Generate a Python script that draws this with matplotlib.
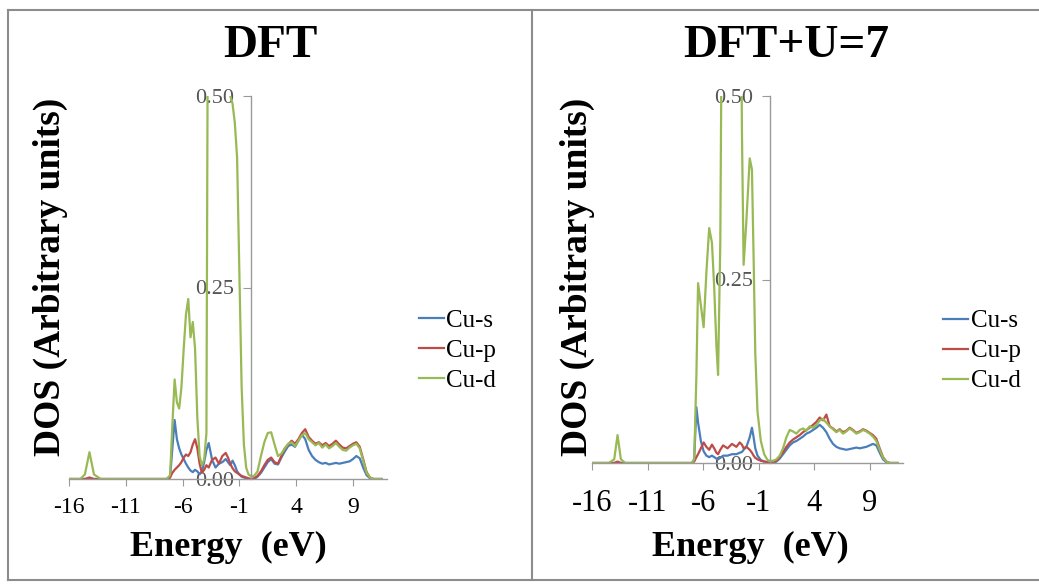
"""
Cu partial DOS, DFT vs DFT+U=7
"""
import numpy as np
import matplotlib.pyplot as plt
from matplotlib.lines import Line2D


W, H = 1039, 584
SERIF = 'Liberation Serif'
COLORS = {'Cu-s': '#4a7ebb', 'Cu-p': '#be4b48', 'Cu-d': '#98b954'}

TITLES = ['DFT', 'DFT+U=7']
SERIES = ['Cu-s', 'Cu-p', 'Cu-d']
X_TICKS = [-16, -11, -6, -1, 4, 9]
Y_TICKS = [0.0, 0.25, 0.5]
Y_TICK_LABELS = ['0.00', '0.25', '0.50']

# left panel (DFT)
energy_dft = [-16.0, -15.0, -14.6, -14.2, -13.8, -13.2, -7.4, -7.1, -6.9, -6.7,
              -6.5, -6.3, -6.1, -5.9, -5.7, -5.5, -5.3, -5.1, -4.9, -4.7,
              -4.5, -4.3, -4.1, -3.9, -3.7, -3.4, -3.1, -2.8, -2.5, -2.2,
              -2.0, -1.8, -1.6, -1.4, -1.2, -1.0, -0.8, -0.6, -0.4, -0.2,
              0.0, 0.3, 0.6, 0.9, 1.2, 1.5, 1.8, 2.1, 2.4, 2.7,
              3.0, 3.3, 3.6, 3.9, 4.2, 4.5, 4.8, 5.1, 5.4, 5.7,
              6.0, 6.3, 6.6, 6.9, 7.2, 7.5, 7.8, 8.1, 8.4, 8.7,
              9.0, 9.3, 9.6, 9.9, 10.2, 10.5, 10.8, 11.5]
cu_s_dft = [0, 0, 0, 0, 0, 0, 0, 0.002, 0.04, 0.077,
            0.052, 0.04, 0.032, 0.026, 0.02, 0.015, 0.011, 0.009, 0.012, 0.01,
            0.006, 0.01, 0.022, 0.038, 0.047, 0.025, 0.015, 0.02, 0.022, 0.026,
            0.022, 0.018, 0.024, 0.018, 0.01, 0.006, 0.003, 0.002, 0.001, 0.0,
            0.0, 0.0, 0.003, 0.008, 0.015, 0.022, 0.026, 0.02, 0.019, 0.028,
            0.036, 0.043, 0.045, 0.042, 0.05, 0.058, 0.052, 0.038, 0.03, 0.025,
            0.022, 0.02, 0.021, 0.019, 0.02, 0.021, 0.02, 0.021, 0.022, 0.023,
            0.026, 0.03, 0.027, 0.015, 0.005, 0.001, 0, 0]
cu_p_dft = [0, 0, 0, 0.002, 0, 0, 0, 0.002, 0.008, 0.012,
            0.015, 0.018, 0.022, 0.028, 0.032, 0.03, 0.035, 0.045, 0.052, 0.04,
            0.02, 0.008, 0.012, 0.018, 0.015, 0.025, 0.028, 0.02, 0.03, 0.034,
            0.028, 0.02, 0.014, 0.01, 0.008, 0.006, 0.004, 0.003, 0.002, 0.001,
            0.0, 0.001, 0.004, 0.01, 0.018, 0.025, 0.028, 0.022, 0.02, 0.03,
            0.04, 0.045, 0.05, 0.046, 0.052, 0.06, 0.065, 0.055, 0.05, 0.046,
            0.048, 0.044, 0.047, 0.043, 0.046, 0.05, 0.045, 0.041, 0.04, 0.043,
            0.046, 0.048, 0.042, 0.026, 0.009, 0.002, 0, 0]
cu_d_dft = [0, 0, 0.006, 0.035, 0.006, 0, 0, 0.005, 0.07, 0.13,
            0.10, 0.092, 0.12, 0.17, 0.215, 0.235, 0.185, 0.205, 0.17, 0.08,
            0.03, 0.018, 0.025, 0.06, 0.95, 1.2, 1.2, 1.1, 1.0, 0.8,
            0.6, 0.50, 0.49, 0.465, 0.42, 0.27, 0.12, 0.045, 0.015, 0.006,
            0.004, 0.004, 0.01, 0.03, 0.048, 0.06, 0.061, 0.045, 0.03, 0.033,
            0.04, 0.046, 0.048, 0.043, 0.05, 0.057, 0.06, 0.052, 0.048, 0.044,
            0.047, 0.041, 0.045, 0.04, 0.043, 0.047, 0.042, 0.038, 0.037, 0.041,
            0.044, 0.046, 0.04, 0.024, 0.008, 0.002, 0, 0]

# right panel (DFT+U=7)
energy_u = [-16.0, -14.5, -14.0, -13.7, -13.4, -13.0, -7.0, -6.8, -6.6, -6.45,
            -6.2, -5.95, -5.7, -5.45, -5.2, -5.0, -4.8, -4.65, -4.45, -4.2,
            -3.8, -3.4, -3.0, -2.7, -2.5, -2.35, -2.1, -1.8, -1.6, -1.45,
            -1.3, -1.1, -0.8, -0.5, -0.2, 0.0, 0.3, 0.6, 0.9, 1.2,
            1.5, 1.8, 2.1, 2.4, 2.7, 3.0, 3.3, 3.6, 3.9, 4.2,
            4.5, 4.8, 5.1, 5.4, 5.7, 6.0, 6.3, 6.6, 6.9, 7.2,
            7.5, 7.8, 8.1, 8.4, 8.7, 9.0, 9.3, 9.6, 9.9, 10.2,
            10.5, 10.8, 11.5]
cu_s_u = [0, 0, 0, 0, 0, 0, 0, 0.005, 0.076, 0.055,
          0.03, 0.016, 0.01, 0.008, 0.01, 0.008, 0.006, 0.005, 0.007, 0.01,
          0.01, 0.012, 0.012, 0.014, 0.015, 0.018, 0.022, 0.035, 0.048, 0.035,
          0.02, 0.01, 0.004, 0.002, 0.001, 0, 0, 0.002, 0.006, 0.012,
          0.018, 0.024, 0.028, 0.03, 0.033, 0.036, 0.04, 0.042, 0.045, 0.048,
          0.052, 0.048, 0.042, 0.033, 0.026, 0.022, 0.02, 0.019, 0.018, 0.019,
          0.02, 0.021, 0.02, 0.021, 0.022, 0.024, 0.026, 0.024, 0.014, 0.005,
          0.001, 0, 0]
cu_p_u = [0, 0, 0, 0.002, 0, 0, 0, 0.002, 0.008, 0.012,
          0.02, 0.028, 0.022, 0.018, 0.025, 0.02, 0.014, 0.012, 0.018, 0.024,
          0.02, 0.026, 0.022, 0.028, 0.025, 0.02, 0.022, 0.018, 0.014, 0.01,
          0.007, 0.005, 0.003, 0.002, 0.001, 0, 0.001, 0.003, 0.008, 0.015,
          0.022, 0.028, 0.032, 0.035, 0.038, 0.042, 0.045, 0.048, 0.052, 0.056,
          0.062, 0.058, 0.066, 0.05, 0.047, 0.043, 0.046, 0.042, 0.044, 0.048,
          0.045, 0.041, 0.043, 0.046, 0.044, 0.041, 0.038, 0.033, 0.02, 0.008,
          0.002, 0, 0]
cu_d_u = [0, 0, 0.005, 0.038, 0.005, 0, 0, 0.005, 0.12, 0.245,
          0.215, 0.185, 0.26, 0.32, 0.30, 0.24, 0.16, 0.12, 0.30, 0.9,
          1.2, 1.2, 1.1, 0.9, 0.45, 0.27, 0.33, 0.415, 0.40, 0.28,
          0.15, 0.07, 0.03, 0.012, 0.004, 0.003, 0.003, 0.005, 0.01, 0.02,
          0.035, 0.045, 0.043, 0.04, 0.045, 0.047, 0.044, 0.05, 0.048, 0.052,
          0.058, 0.06, 0.055, 0.05, 0.046, 0.042, 0.045, 0.04, 0.043, 0.047,
          0.044, 0.04, 0.042, 0.045, 0.043, 0.04, 0.036, 0.03, 0.018, 0.007,
          0.002, 0, 0]


def px_rect(x0, y0, x1, y1):
    """pixel box (top-left origin) -> figure fraction rect"""
    return [x0 / W, 1 - y1 / H, (x1 - x0) / W, (y1 - y0) / H]


def draw_panel(ax, energy, curves, xtick_size, xtick_pad, legend_pos):
    for name, vals in zip(SERIES, curves):
        ax.plot(energy, vals, color=COLORS[name], lw=1.6, label=name)
    ax.set_xlim(-16, 12)
    ax.set_ylim(0, 0.5)
    ax.spines['top'].set_visible(False)
    ax.spines['right'].set_visible(False)
    ax.spines['left'].set_position(('data', 0))
    for sp in ('left', 'bottom'):
        ax.spines[sp].set_color('#9a9a9a')
        ax.spines[sp].set_linewidth(1.0)
    ax.set_xticks(X_TICKS)
    ax.set_xticklabels([str(t) for t in X_TICKS], family=SERIF,
                       fontsize=xtick_size, color='black')
    ax.set_yticks(Y_TICKS)
    ax.set_yticklabels(Y_TICK_LABELS, family=SERIF, fontsize=16, color='#555555')
    ax.tick_params(axis='x', direction='out', length=5, color='#9a9a9a', pad=xtick_pad)
    ax.tick_params(axis='y', direction='out', length=6, color='#9a9a9a', pad=6)
    ax.patch.set_alpha(0)
    ax.legend(loc='center left', bbox_to_anchor=legend_pos, frameon=False,
              prop={'family': SERIF, 'size': 18}, handlelength=1.0,
              handletextpad=0.1, labelspacing=0.3, borderpad=0, borderaxespad=0)


def main():
    fig = plt.figure(figsize=(W / 100, H / 100), dpi=100)

    # table borders
    border = dict(color='#8c8c8c', lw=1.5)
    fig.add_artist(Line2D([8 / W, 1], [1 - 10 / H, 1 - 10 / H], **border))
    fig.add_artist(Line2D([8 / W, 1], [1 - 580 / H, 1 - 580 / H], **border))
    fig.add_artist(Line2D([8 / W, 8 / W], [1 - 10 / H, 1 - 580 / H], **border))
    fig.add_artist(Line2D([532 / W, 532 / W], [1 - 10 / H, 1 - 580 / H], **border))

    ax1 = fig.add_axes(px_rect(69, 96, 387, 479))
    ax2 = fig.add_axes(px_rect(592, 96, 903, 463))

    draw_panel(ax1, energy_dft, [cu_s_dft, cu_p_dft, cu_d_dft], 17, 8, (1.10, 0.335))
    draw_panel(ax2, energy_u, [cu_s_u, cu_p_u, cu_d_u], 22, 14, (1.13, 0.305))

    for xc, title in zip([270, 786], TITLES):
        fig.text(xc / W, 1 - 46 / H, title, family=SERIF, weight='bold',
                 fontsize=34, ha='center', va='center')
    for xc in [228, 750]:
        fig.text(xc / W, 1 - 547 / H, 'Energy  (eV)', family=SERIF, weight='bold',
                 fontsize=26, ha='center', va='center')
    for xc in [50, 577]:
        fig.text(xc / W, 1 - 277 / H, 'DOS (Arbitrary units)', family=SERIF,
                 weight='bold', fontsize=27, rotation=90, ha='center', va='center')

    fig.savefig('out.png', dpi=100)


if __name__ == '__main__':
    main()
